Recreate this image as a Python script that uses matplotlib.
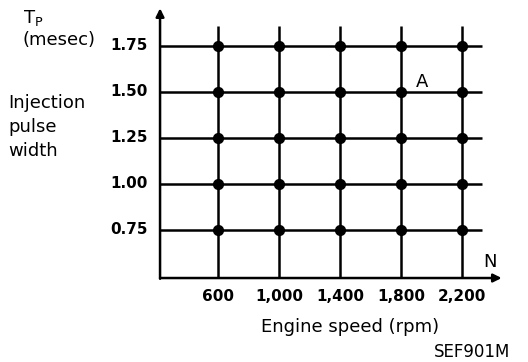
import numpy as np
import matplotlib.pyplot as plt

plt.rcParams['font.family'] = ['DejaVu Sans']

# engine speed (rpm) and injection pulse width (msec) grid
rpm = [600, 1000, 1400, 1800, 2200]
rpm_labels = ['600', '1,000', '1,400', '1,800', '2,200']
pulse = [0.75, 1.00, 1.25, 1.50, 1.75]
pulse_labels = ['0.75', '1.00', '1.25', '1.50', '1.75']

# axis extents (data units)
x0, x1, xarrow = 220, 2330, 2460
y0, ytop, yarrow = 0.489, 1.86, 1.955

fig = plt.figure(figsize=(5.28, 3.62), dpi=100)
ax = fig.add_axes([0, 0, 1, 1])
ax.set_xlim(-829.5, 2632.8)
ax.set_ylim(0.0326, 2.0)
ax.axis('off')

lw = 1.8
# horizontal lines
for p in pulse:
    ax.plot([x0, x1], [p, p], color='black', lw=lw, solid_capstyle='butt')
# vertical lines
for r in rpm:
    ax.plot([r, r], [y0, ytop], color='black', lw=lw, solid_capstyle='butt')

# dots at every point
X, Y = np.meshgrid(rpm, pulse)
ax.scatter(X.ravel(), Y.ravel(), s=50, color='black', zorder=3)

# axes with arrows
ax.annotate('', xy=(xarrow, y0), xytext=(x0, y0),
            arrowprops=dict(arrowstyle='-|>', color='black', lw=lw,
                            mutation_scale=12, shrinkA=0, shrinkB=0))
ax.annotate('', xy=(x0, yarrow), xytext=(x0, y0 - 0.004),
            arrowprops=dict(arrowstyle='-|>', color='black', lw=lw,
                            mutation_scale=12, shrinkA=0, shrinkB=0))

# tick labels
for r, lab in zip(rpm, rpm_labels):
    ax.text(r, 0.386, lab, ha='center', va='center', fontsize=11,
            fontweight='bold')
for p, lab in zip(pulse, pulse_labels):
    ax.text(141, p, lab, ha='right', va='center', fontsize=11,
            fontweight='bold')

ax.text(1466, 0.223, 'Engine speed (rpm)', ha='center', va='center',
        fontsize=13)
ax.text(2515, 0.087, 'SEF901M', ha='right', va='center', fontsize=12)
ax.text(2384, 0.576, 'N', ha='center', va='center', fontsize=13)
ax.text(1938, 1.555, 'A', ha='center', va='center', fontsize=13)

ax.text(-613, 1.902, r'T$_{\mathregular{P}}$', ha='center', va='center',
        fontsize=13)
ax.text(-685, 1.783, '(mesec)', ha='left', va='center', fontsize=13)
for yy, word in zip([1.440, 1.310, 1.179], ['Injection', 'pulse', 'width']):
    ax.text(-777, yy, word, ha='left', va='center', fontsize=13)

fig.savefig('out.png', dpi=100)
